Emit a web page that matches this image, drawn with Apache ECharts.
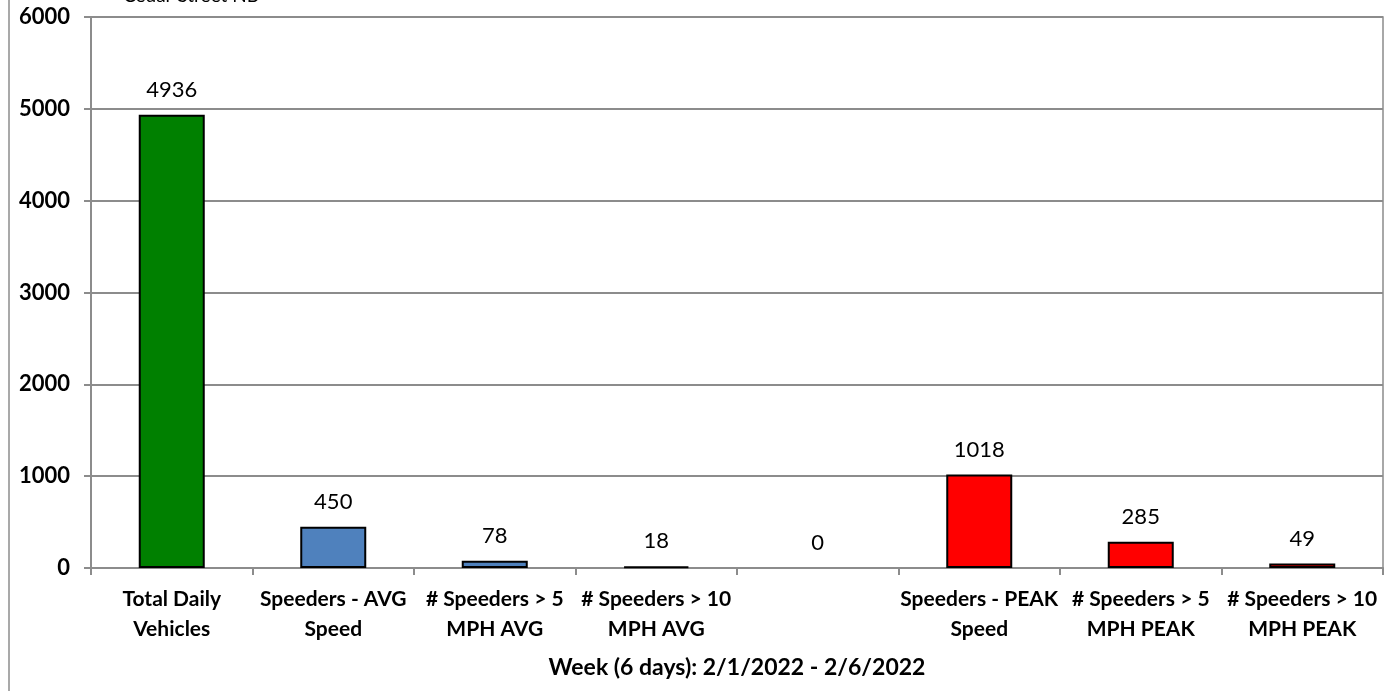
<!DOCTYPE html>
<html>
<head>
<meta charset="utf-8">
<script src="https://cdn.jsdelivr.net/npm/echarts@6/dist/echarts.min.js"></script>
<style>
  html, body { margin: 0; padding: 0; background: #fff; }
  #chart { width: 1385px; height: 691px; }
</style>
</head>
<body>
<div id="chart"></div>
<script>
// categories on the x axis (the 5th is an empty spacer column)
const categories = [
  'Total Daily\nVehicles',
  'Speeders - AVG\nSpeed',
  '# Speeders > 5\nMPH AVG',
  '# Speeders > 10\nMPH AVG',
  '',
  'Speeders - PEAK\nSpeed',
  '# Speeders > 5\nMPH PEAK',
  '# Speeders > 10\nMPH PEAK'
];
const counts = [4936, 450, 78, 18, 0, 1018, 285, 49];
const groups = ['total', 'avg', 'avg', 'avg', 'none', 'peak', 'peak', 'peak'];
const yTicks = [0, 1000, 2000, 3000, 4000, 5000, 6000];

const groupColor = { total: '#008000', avg: '#4f81bd', none: 'transparent', peak: '#ff0000' };

const chart = echarts.init(document.getElementById('chart'));

const option = {
  animation: false,
  textStyle: { fontFamily: 'Lato, "Open Sans", sans-serif' },
  title: {
    text: 'Cedar Street NB',
    left: 118,
    top: -19,
    textStyle: { fontSize: 19, fontWeight: 'normal', color: '#000', fontFamily: 'Lato' }
  },
  graphic: [{
    type: 'line',
    shape: { x1: 9, y1: 0, x2: 9, y2: 691 },
    style: { stroke: '#8c8c8c', lineWidth: 1.5 }
  }],
  grid: {
    left: 91, right: 2, top: 17, bottom: 123,
    outerBoundsMode: 'none',
    show: true, borderColor: '#8c8c8c', borderWidth: 1.5
  },
  xAxis: {
    type: 'category',
    data: categories,
    name: 'Week (6 days): 2/1/2022 - 2/6/2022',
    nameLocation: 'middle',
    nameGap: 88,
    nameTextStyle: { fontSize: 23, fontWeight: 'bold', color: '#000' },
    axisLine: { lineStyle: { color: '#8c8c8c', width: 2 } },
    axisTick: { show: true, length: 7, lineStyle: { color: '#8c8c8c', width: 2 } },
    axisLabel: {
      interval: 0, fontSize: 21, fontWeight: 'bold', color: '#000',
      lineHeight: 30, margin: 16
    }
  },
  yAxis: {
    type: 'value',
    min: yTicks[0],
    max: yTicks[yTicks.length - 1],
    interval: 1000,
    axisLine: { show: true, lineStyle: { color: '#8c8c8c', width: 2 } },
    axisTick: { show: true, length: 7, lineStyle: { color: '#8c8c8c', width: 2 } },
    splitLine: { lineStyle: { color: '#8c8c8c', width: 2 } },
    axisLabel: { fontSize: 22, fontWeight: 'bold', color: '#000', margin: 21, formatter: v => String(v) }
  },
  series: [{
    type: 'bar',
    barWidth: 66,
    data: counts.map((v, i) => ({
      value: v,
      itemStyle: {
        color: groupColor[groups[i]],
        borderColor: groups[i] === 'none' ? 'transparent' : '#000',
        borderWidth: groups[i] === 'none' ? 0 : 2
      }
    })),
    label: {
      show: true,
      position: 'top',
      distance: 14,
      fontSize: 22,
      color: '#000'
    }
  }]
};

chart.setOption(option);
</script>
</body>
</html>
